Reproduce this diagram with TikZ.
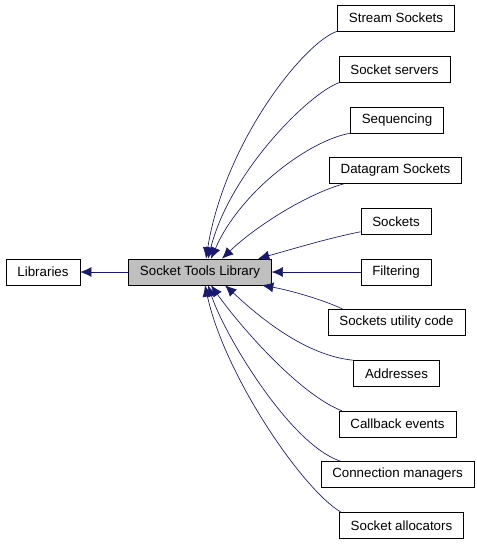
\documentclass[tikz,border=0pt]{standalone}
\usepackage{fontspec}
\setmainfont{Liberation Sans}
\usetikzlibrary{arrows.meta,calc}
\definecolor{EdgeCol}{RGB}{25,25,112}
\definecolor{MainFill}{RGB}{191,191,191}

\begin{document}
\begin{tikzpicture}[x=0.75pt,y=-0.75pt,
    box/.style={draw=black,fill=white,inner xsep=8.5pt,minimum height=19.5pt,font=\fontsize{10}{12}\selectfont},
    edge/.style={draw=EdgeCol,line width=0.5pt,-{Latex[length=8.5pt,width=7.5pt]}}]
            \useasboundingbox (0,0) rectangle (477,544);

            \node[box] (libs) at (43,272) {Libraries};
            \node[box,fill=MainFill] (stl) at (200,272) {Socket Tools Library};

            \node[box] (stream) at (396,18) {Stream Sockets};
            \node[box] (servers) at (394.5,69.5) {Socket servers};
            \node[box] (seq) at (397,120) {Sequencing};
            \node[box] (dgram) at (395.5,170.5) {Datagram Sockets};
            \node[box] (sockets) at (396,221.5) {Sockets};
            \node[box] (filter) at (396,272) {Filtering};
            \node[box] (util) at (396.5,322.5) {Sockets utility code};
            \node[box] (addr) at (396.5,373.5) {Addresses};
            \node[box] (cb) at (397.5,424) {Callback events};
            \node[box] (conn) at (397.5,474.5) {Connection managers};
            \node[box] (alloc) at (401.5,525.5) {Socket allocators};

            \draw[edge] (stl) -- (libs);

            \draw[edge] (stream.south west) .. controls +(-32,10) and +(19,-118) .. ($(stl.north)+(6,0)$);
            \draw[edge] (servers.south west) .. controls +(-30,11) and +(22,-87) .. ($(stl.north)+(8,0)$);
            \draw[edge] (seq.south west) .. controls +(-41,7) and +(29,-67) .. ($(stl.north)+(11,0)$);
            \draw[edge] ($(dgram.south west)+(15,0)$) .. controls +(-37,10) and +(33,-32) .. ($(stl.north)+(22,0)$);
            \draw[edge] ($(sockets.south west)+(0,-3)$) .. controls +(-31,6) and +(32,-9) .. ($(stl.north)+(58,0)$);
            \draw[edge] (filter) -- (stl);
            \draw[edge] ($(util.north west)+(15,0)$) .. controls +(-18,-9) and +(28,5) .. ($(stl.south)+(62,0)$);
            \draw[edge] (addr.north west) .. controls +(-53,-5) and +(25,23) .. ($(stl.south)+(25,0)$);
            \draw[edge] ($(cb.north west)+(3,0)$) .. controls +(-42,-16) and +(29,41) .. ($(stl.south)+(11,0)$);
            \draw[edge] ($(conn.north west)+(20,0)$) .. controls +(-50,-16) and +(17,51) .. ($(stl.south)+(8,0)$);
            \draw[edge] ($(alloc.north west)+(2,0)$) .. controls +(-38,-22) and +(20,91) .. ($(stl.south)+(5,0)$);
        \end{tikzpicture}
\end{document}
